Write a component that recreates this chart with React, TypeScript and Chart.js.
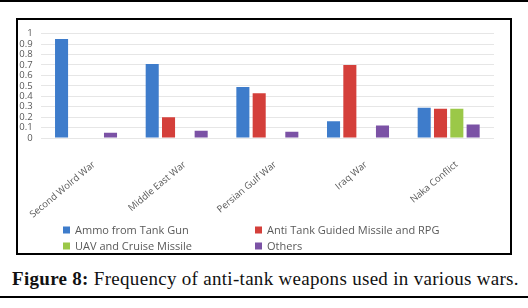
import React, { useEffect, useRef } from "react";
import { Chart, registerables } from "chart.js";

Chart.register(...registerables);

const categories = ["Second Wolrd War", "Middle East War", "Persian Gulf War", "Iraq War", "Naka Conflict"];
const seriesNames = ["Ammo from Tank Gun", "Anti Tank Guided Missile and RPG", "UAV and Cruise Missile", "Others"];
const ammoTankGun = [0.95, 0.71, 0.49, 0.16, 0.29];
const atgmRpg = [null, 0.2, 0.43, 0.7, 0.28];
const uavCruise = [null, null, null, null, 0.28];
const others = [0.05, 0.07, 0.06, 0.12, 0.13];
const colors = ["#3E7CCB", "#D43F3A", "#9BC848", "#7B52A5"];
const yTicks = [0, 0.1, 0.2, 0.3, 0.4, 0.5, 0.6, 0.7, 0.8, 0.9, 1];

const legendPlugin = {
  id: "gridLegend",
  afterDraw(chart: any) {
    const ctx = chart.ctx;
    const cols = [45, 237];
    const rows = [210, 226];
    ctx.save();
    ctx.font = "11px 'Open Sans'";
    ctx.textBaseline = "middle";
    ctx.textAlign = "left";
    chart.data.datasets.forEach((ds: any, i: number) => {
      const x = cols[i % 2];
      const y = rows[Math.floor(i / 2)];
      ctx.fillStyle = ds.backgroundColor;
      ctx.fillRect(x, y - 3.5, 7, 7);
      ctx.fillStyle = "#595959";
      ctx.fillText(ds.label, x + 12, y + 0.5);
    });
    ctx.restore();
  },
};

export default function App() {
  const ref = useRef<HTMLCanvasElement>(null);
  useEffect(() => {
    const values = [ammoTankGun, atgmRpg, uavCruise, others];
    const chart = new Chart(ref.current!, {
      type: "bar",
      data: {
        labels: categories,
        datasets: seriesNames.map((name, i) => ({
          label: name,
          data: values[i] as any,
          backgroundColor: colors[i],
          borderWidth: 0,
          barPercentage: 0.8,
          categoryPercentage: 0.72,
        })),
      },
      plugins: [legendPlugin],
      options: {
        responsive: false,
        animation: false,
        layout: { padding: { top: 6, right: 16, bottom: 35, left: 0 } },
        plugins: { legend: { display: false }, tooltip: { enabled: false } },
        scales: {
          x: {
            grid: { display: false },
            border: { display: false },
            ticks: {
              minRotation: 40,
              maxRotation: 40,
              padding: 13,
              labelOffset: 8,
              color: "#595959",
              font: { family: "'Open Sans'", size: 9.5 },
              autoSkip: false,
            },
            afterFit: (s: any) => {
              s.height = 80;
              s.paddingLeft = 0;
              s.paddingRight = 0;
            },
          },
          y: {
            min: 0,
            max: 1,
            afterBuildTicks: (s: any) => {
              s.ticks = yTicks.map((v) => ({ value: v }));
            },
            grid: { color: "#E6E6E6", drawTicks: false },
            border: { display: false },
            ticks: {
              autoSkip: false,
              padding: 8,
              color: "#595959",
              font: { family: "'Open Sans'", size: 9.5 },
              callback: (v: any) => String(Math.round(Number(v) * 10) / 10),
            },
            afterFit: (s: any) => {
              s.width = 22.7;
            },
          },
        },
      },
    });
    return () => chart.destroy();
  }, []);

  return (
    <div style={{ position: "absolute", left: 0, top: 0, width: 528, height: 308, background: "#fff", overflow: "hidden" }}>
      <div style={{ position: "absolute", left: 0, top: 0, width: 528, height: 1.5, background: "#000" }} />
      <div
        style={{
          position: "absolute",
          left: 16,
          top: 18,
          width: 496,
          height: 237,
          border: "2px solid #000",
          boxSizing: "border-box",
        }}
      >
        <canvas ref={ref} width={492} height={233} style={{ display: "block", width: 492, height: 233 }} />
      </div>
      <div
        style={{
          position: "absolute",
          left: 12,
          top: 268,
          whiteSpace: "nowrap",
          fontFamily: "'Liberation Serif', serif",
          fontSize: 19,
          letterSpacing: 0.3,
          lineHeight: "21px",
          color: "#111",
        }}
      >
        <b>Figure 8:</b> Frequency of anti-tank weapons used in various wars.
      </div>
      <div style={{ position: "absolute", left: 0, top: 296, width: 528, height: 2, background: "#000" }} />
    </div>
  );
}
